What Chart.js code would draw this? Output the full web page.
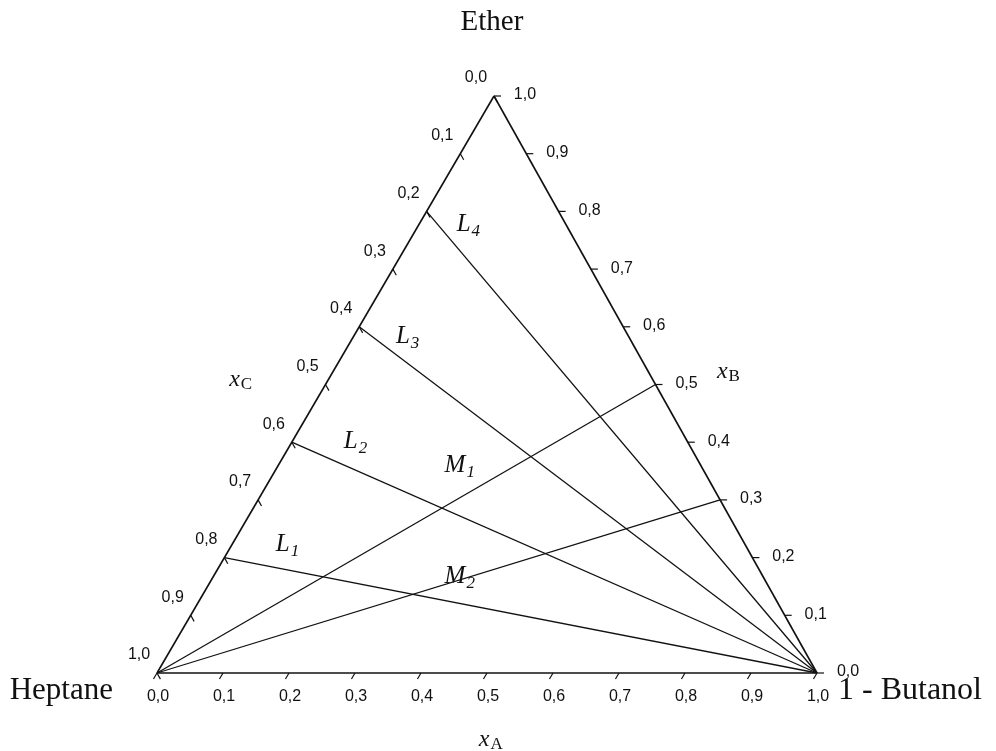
<!DOCTYPE html>
<html>
<head>
<meta charset="utf-8">
<script src="https://cdn.jsdelivr.net/npm/chart.js@4"></script>
<style>
  html, body { margin: 0; padding: 0; background: #ffffff; }
  #wrap { width: 996px; height: 751px; position: relative; }
</style>
</head>
<body>
<div id="wrap"><canvas id="c" width="996" height="751"></canvas></div>
<script>
// ---------------- data ----------------
const componentNames = ['Heptane', '1 - Butanol', 'Ether'];   // vertices: xC=1, xA=1, xB=1
const axisVariables = ['A', 'B', 'C'];                      // x_A (bottom), x_B (right), x_C (left)
const tickValues = [0.0, 0.1, 0.2, 0.3, 0.4, 0.5, 0.6, 0.7, 0.8, 0.9, 1.0];
const tickLabels = ['0,0', '0,1', '0,2', '0,3', '0,4', '0,5', '0,6', '0,7', '0,8', '0,9', '1,0'];
// tie lines L1..L4: start on the Heptane-Ether side at these xC, end at pure 1-Butanol
const tieLineNames = ['1', '2', '3', '4'];
const tieLineStartXC = [0.8, 0.6, 0.4, 0.2];
// mixing lines M1, M2: start at pure Heptane, end on the Butanol-Ether side at these xB
const mixLineNames = ['1', '2'];
const mixLineEndXB = [0.5, 0.3];

// ---------------- projection ----------------
const APEX_X = 0.5106;          // horizontal position of the apex along the base
function P(xA, xB) { return { x: xA + xB * APEX_X, y: xB }; }

const ink = '#111111';
const datasets = [];
function seg(p, q, w) {
  datasets.push({ data: [p, q], showLine: true, borderColor: ink, borderWidth: w,
    pointRadius: 0, clip: false, fill: false, tension: 0 });
}
// triangle
seg(P(0, 0), P(1, 0), 1.6);
seg(P(1, 0), P(0, 1), 1.6);
seg(P(0, 1), P(0, 0), 1.6);
// tie lines
tieLineStartXC.forEach(c => seg(P(0, 1 - c), P(1, 0), 1.3));
// mixing lines
mixLineEndXB.forEach(b => seg(P(0, 0), P(1 - b, b), 1.3));
// ticks
const kB = 7 / 668, kR = 7 / 660, kL = 7 / 661;
tickValues.forEach(v => {
  const pb = P(v, 0);  seg(pb, { x: pb.x - APEX_X * kB, y: pb.y - kB }, 1.2);
  const pr = P(1 - v, v); seg(pr, { x: pr.x + kR, y: pr.y }, 1.2);
  const pl = P(0, 1 - v); seg(pl, { x: pl.x + (1 - APEX_X) * kL, y: pl.y - kL }, 1.2);
});

// ---------------- text plugin ----------------
const SANS = '"Liberation Sans", Arial, sans-serif';
const SERIF = '"Liberation Serif", "Times New Roman", serif';
const textPlugin = {
  id: 'ternaryText',
  afterDatasetsDraw(chart) {
    const ctx = chart.ctx, sx = chart.scales.x, sy = chart.scales.y;
    const px = p => ({ x: sx.getPixelForValue(p.x), y: sy.getPixelForValue(p.y) });
    ctx.save();
    ctx.fillStyle = ink;
    ctx.textBaseline = 'middle';
    // tick labels
    ctx.font = '16px ' + SANS;
    tickValues.forEach((v, i) => {
      const b = px(P(v, 0));
      ctx.textAlign = 'center'; ctx.fillText(tickLabels[i], b.x + 1, b.y + 24);
      const r = px(P(1 - v, v));
      ctx.textAlign = 'center'; ctx.fillText(tickLabels[i], r.x + 31, r.y - 1);
      const l = px(P(0, 1 - v));
      ctx.textAlign = 'center'; ctx.fillText(tickLabels[i], l.x - 18, l.y - 18);
    });
    // component names
    const top = px(P(0, 1)), bl = px(P(0, 0)), br = px(P(1, 0));
    ctx.font = '29px ' + SERIF;
    ctx.textAlign = 'center'; ctx.fillText(componentNames[2], top.x - 2, top.y - 74);
    ctx.font = '31px ' + SERIF;
    ctx.textAlign = 'right'; ctx.fillText(componentNames[0], bl.x - 44, bl.y + 18);
    ctx.font = '32px ' + SERIF;
    ctx.textAlign = 'left'; ctx.fillText(componentNames[1], br.x + 21, br.y + 18);
    // subscripted labels
    function sub(main, s, at, mainFont, subFont, dy) {
      ctx.textAlign = 'left';
      ctx.font = mainFont;
      const w = ctx.measureText(main).width;
      ctx.font = subFont;
      const ws = ctx.measureText(s).width;
      const x0 = at.x - (w + ws) / 2;
      ctx.font = mainFont; ctx.fillText(main, x0, at.y);
      ctx.font = subFont; ctx.fillText(s, x0 + w + 1, at.y + dy);
    }
    const axF = 'italic 24px ' + SERIF, axS = '17px ' + SERIF;
    sub('x', axisVariables[0], px({ x: 0.505, y: -0.116 }), axF, axS, 5);
    sub('x', axisVariables[1], px({ x: 0.865, y: 0.522 }), axF, axS, 5);
    sub('x', axisVariables[2], px({ x: 0.126, y: 0.508 }), axF, axS, 5);
    const lF = 'italic 25px ' + SERIF, lS = 'italic 17px ' + SERIF;
    const tiePos = [{ x: 0.197, y: 0.222 }, { x: 0.300, y: 0.402 }, { x: 0.379, y: 0.584 }, { x: 0.471, y: 0.778 }];
    tieLineNames.forEach((n, i) => sub('L', n, px(tiePos[i]), lF, lS, 7));
    const mixPos = [{ x: 0.458, y: 0.360 }, { x: 0.458, y: 0.168 }];
    mixLineNames.forEach((n, i) => sub('M', n, px(mixPos[i]), lF, lS, 7));
    ctx.restore();
  }
};

new Chart(document.getElementById('c'), {
  type: 'scatter',
  data: { datasets },
  options: {
    responsive: false,
    animation: false,
    devicePixelRatio: 1,
    layout: { padding: { left: 157, right: 179, top: 96, bottom: 78 } },
    scales: {
      x: { type: 'linear', min: 0, max: 1, display: false },
      y: { type: 'linear', min: 0, max: 1, display: false }
    },
    plugins: { legend: { display: false }, tooltip: { enabled: false } },
    elements: { line: { borderCapStyle: 'butt' } }
  },
  plugins: [textPlugin]
});
</script>
</body>
</html>
